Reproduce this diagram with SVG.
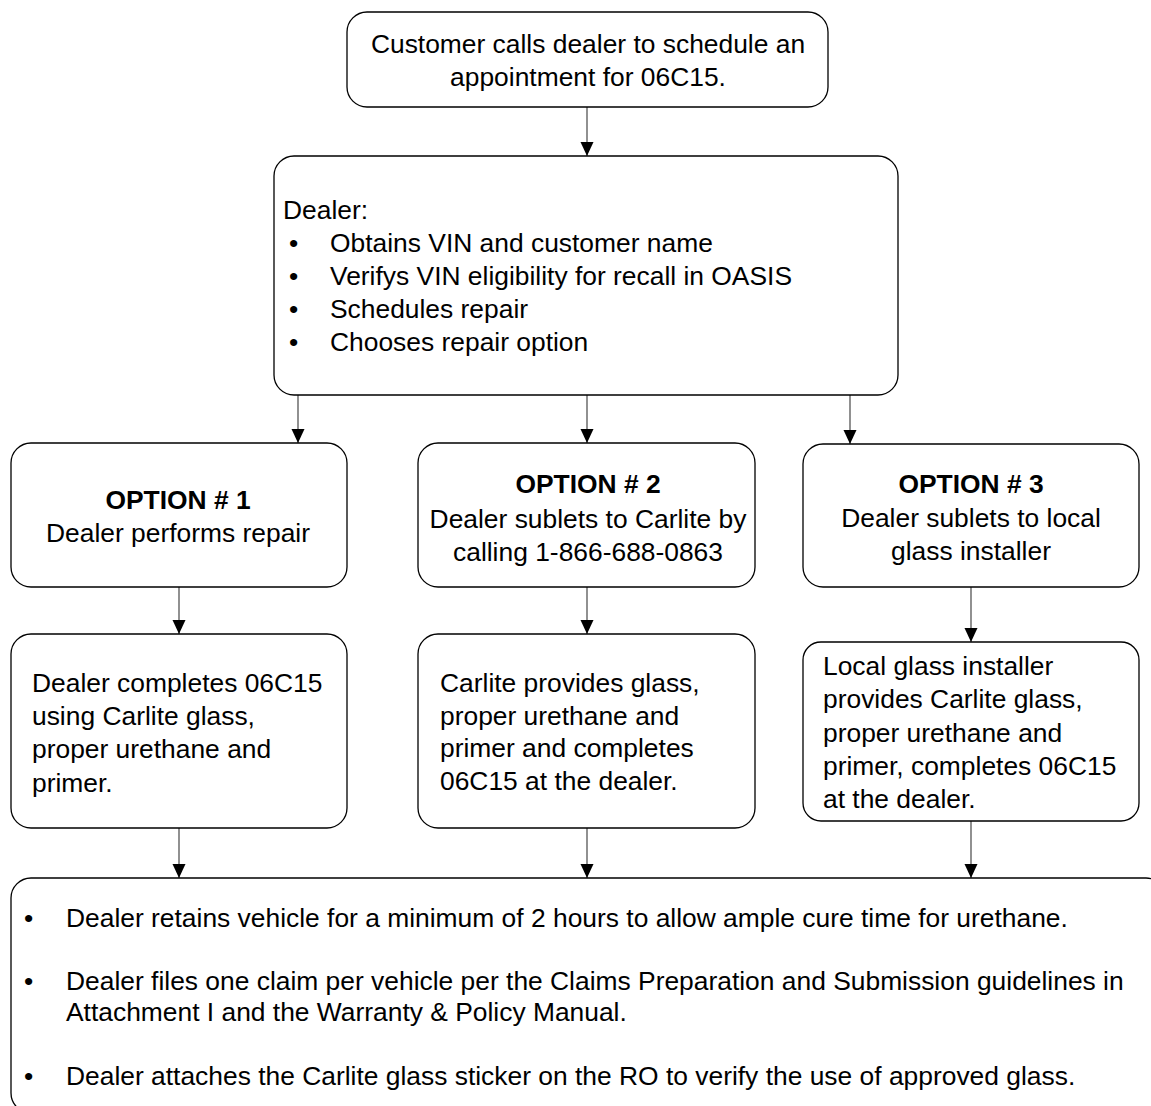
<svg xmlns="http://www.w3.org/2000/svg" width="1151" height="1106" viewBox="0 0 1151 1106">
<style>
.box{fill:#fff;stroke:#000;stroke-width:1.3}
.t{font-family:"Liberation Sans",Arial,sans-serif;font-size:26.4px;fill:#000}
.c{text-anchor:middle}
.b{font-weight:bold}
.conn line{stroke:#555;stroke-width:1.3;marker-end:url(#ah)}
</style>
<defs>
<marker id="ah" markerUnits="userSpaceOnUse" viewBox="0 0 14 14" markerWidth="14" markerHeight="14" refX="14" refY="7" orient="auto">
<path d="M0,0.5 L14,7 L0,13.5 z" fill="#000"/>
</marker>
</defs>
<rect width="1151" height="1106" fill="#fff"/>
<g id="connectors" class="conn">
<line x1="587" y1="107" x2="587" y2="156"/>
<line x1="298" y1="395" x2="298" y2="443"/>
<line x1="587" y1="395" x2="587" y2="443"/>
<line x1="850" y1="395" x2="850" y2="444"/>
<line x1="179" y1="587" x2="179" y2="634"/>
<line x1="587" y1="587" x2="587" y2="634"/>
<line x1="971" y1="587" x2="971" y2="642"/>
<line x1="179" y1="828" x2="179" y2="878"/>
<line x1="587" y1="828" x2="587" y2="878"/>
<line x1="971" y1="821" x2="971" y2="878"/>
</g>
<g id="n-start">
<rect class="box" x="347" y="12" width="481" height="95" rx="20"/>
<text class="t c" x="588" y="53">Customer calls dealer to schedule an</text>
<text class="t c" x="588" y="86">appointment for 06C15.</text>
</g>
<g id="n-dealer">
<rect class="box" x="274" y="156" width="624" height="239" rx="20"/>
<text class="t" x="283" y="219">Dealer:</text>
<text class="t" x="289" y="252">•</text><text class="t" x="330" y="252">Obtains VIN and customer name</text>
<text class="t" x="289" y="285">•</text><text class="t" x="330" y="285">Verifys VIN eligibility for recall in OASIS</text>
<text class="t" x="289" y="318">•</text><text class="t" x="330" y="318">Schedules repair</text>
<text class="t" x="289" y="351">•</text><text class="t" x="330" y="351">Chooses repair option</text>
</g>
<g id="n-opt1">
<rect class="box" x="11" y="443" width="336" height="144" rx="20"/>
<text class="t c b" x="178" y="509">OPTION # 1</text>
<text class="t c" x="178" y="542">Dealer performs repair</text>
</g>
<g id="n-opt2">
<rect class="box" x="418" y="443" width="337" height="144" rx="20"/>
<text class="t c b" x="588" y="493">OPTION # 2</text>
<text class="t c" x="588" y="528">Dealer sublets to Carlite by</text>
<text class="t c" x="588" y="561">calling 1-866-688-0863</text>
</g>
<g id="n-opt3">
<rect class="box" x="803" y="444" width="336" height="143" rx="20"/>
<text class="t c b" x="971" y="493">OPTION # 3</text>
<text class="t c" x="971" y="527">Dealer sublets to local</text>
<text class="t c" x="971" y="560">glass installer</text>
</g>
<g id="n-res1">
<rect class="box" x="11" y="634" width="336" height="194" rx="20"/>
<text class="t" x="32" y="692">Dealer completes 06C15</text>
<text class="t" x="32" y="725">using Carlite glass,</text>
<text class="t" x="32" y="758">proper urethane and</text>
<text class="t" x="32" y="792">primer.</text>
</g>
<g id="n-res2">
<rect class="box" x="418" y="634" width="337" height="194" rx="20"/>
<text class="t" x="440" y="692">Carlite provides glass,</text>
<text class="t" x="440" y="725">proper urethane and</text>
<text class="t" x="440" y="757">primer and completes</text>
<text class="t" x="440" y="790">06C15 at the dealer.</text>
</g>
<g id="n-res3">
<rect class="box" x="803" y="642" width="336" height="179" rx="18"/>
<text class="t" x="823" y="675">Local glass installer</text>
<text class="t" x="823" y="708">provides Carlite glass,</text>
<text class="t" x="823" y="742">proper urethane and</text>
<text class="t" x="823" y="775">primer, completes 06C15</text>
<text class="t" x="823" y="808">at the dealer.</text>
</g>
<g id="n-final">
<rect class="box" x="11" y="878" width="1155" height="235" rx="20"/>
<text class="t" x="24" y="927">•</text><text class="t" x="66" y="927">Dealer retains vehicle for a minimum of 2 hours to allow ample cure time for urethane.</text>
<text class="t" x="24" y="990">•</text><text class="t" x="66" y="990">Dealer files one claim per vehicle per the Claims Preparation and Submission guidelines in</text>
<text class="t" x="66" y="1021">Attachment I and the Warranty &amp; Policy Manual.</text>
<text class="t" x="24" y="1085">•</text><text class="t" x="66" y="1085">Dealer attaches the Carlite glass sticker on the RO to verify the use of approved glass.</text>
</g>
</svg>
